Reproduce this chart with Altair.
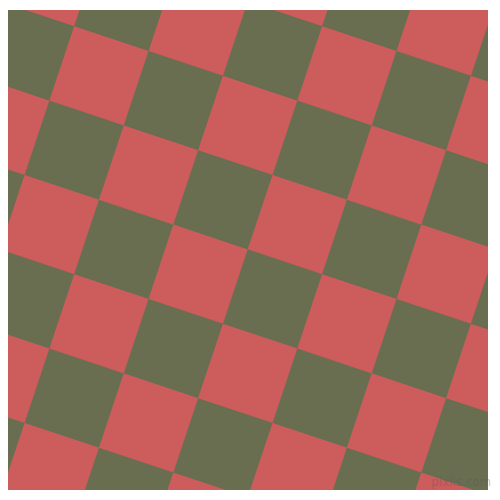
import altair as alt
import pandas as pd

# lattice indices of the checkerboard cells (along the two square edges)
a_idx = list(range(-2, 10))
b_idx = list(range(-4, 8))
palette = ["#696E50", "#CD5C5C"]  # even cells, odd cells
cell_dx = 75   # cell edge vector along a: (75, 25) pixels
cell_dy = 25
watermark = ["pixlis.com"]

W = 484
H = 484
OFF = 8  # page margin, so data coordinates equal screen pixels

rows = [{"a": a, "b": b, "parity": (a + b) % 2} for a in a_idx for b in b_idx]
df = pd.DataFrame(rows)

xs = alt.Scale(domain=[OFF, OFF + W], nice=False, zero=False)
ys = alt.Scale(domain=[OFF, OFF + H], nice=False, zero=False, reverse=True)

side2 = cell_dx * cell_dx + cell_dy * cell_dy

cells = (
    alt.Chart(df)
    .transform_calculate(
        cx=f"(datum.a + 0.5) * {cell_dx} - (datum.b + 0.5) * {cell_dy}",
        cy=f"(datum.a + 0.5) * {cell_dy} + (datum.b + 0.5) * {cell_dx}",
    )
    .mark_point(shape="square", filled=True, opacity=1, strokeWidth=1, clip=True,
                angle=18.4349)
    .encode(
        x=alt.X("cx:Q", scale=xs, axis=None),
        y=alt.Y("cy:Q", scale=ys, axis=None),
        size=alt.value(side2),
        color=alt.Color("parity:N", scale=alt.Scale(domain=[0, 1], range=palette), legend=None),
        stroke=alt.Color("parity:N", scale=alt.Scale(domain=[0, 1], range=palette), legend=None),
    )
)

wm = (
    alt.Chart(pd.DataFrame({"t": watermark, "x": [465], "y": [484]}))
    .mark_text(fontSize=12, font="DejaVu Sans", color="#5a5a5a", opacity=0.35)
    .encode(x=alt.X("x:Q", scale=xs), y=alt.Y("y:Q", scale=ys), text="t:N")
)

chart = (
    alt.layer(cells, wm)
    .properties(width=W, height=H, padding=0)
    .configure_view(stroke=None)
)

chart.save("out.html", embed_options={"renderer": "svg", "actions": False})
